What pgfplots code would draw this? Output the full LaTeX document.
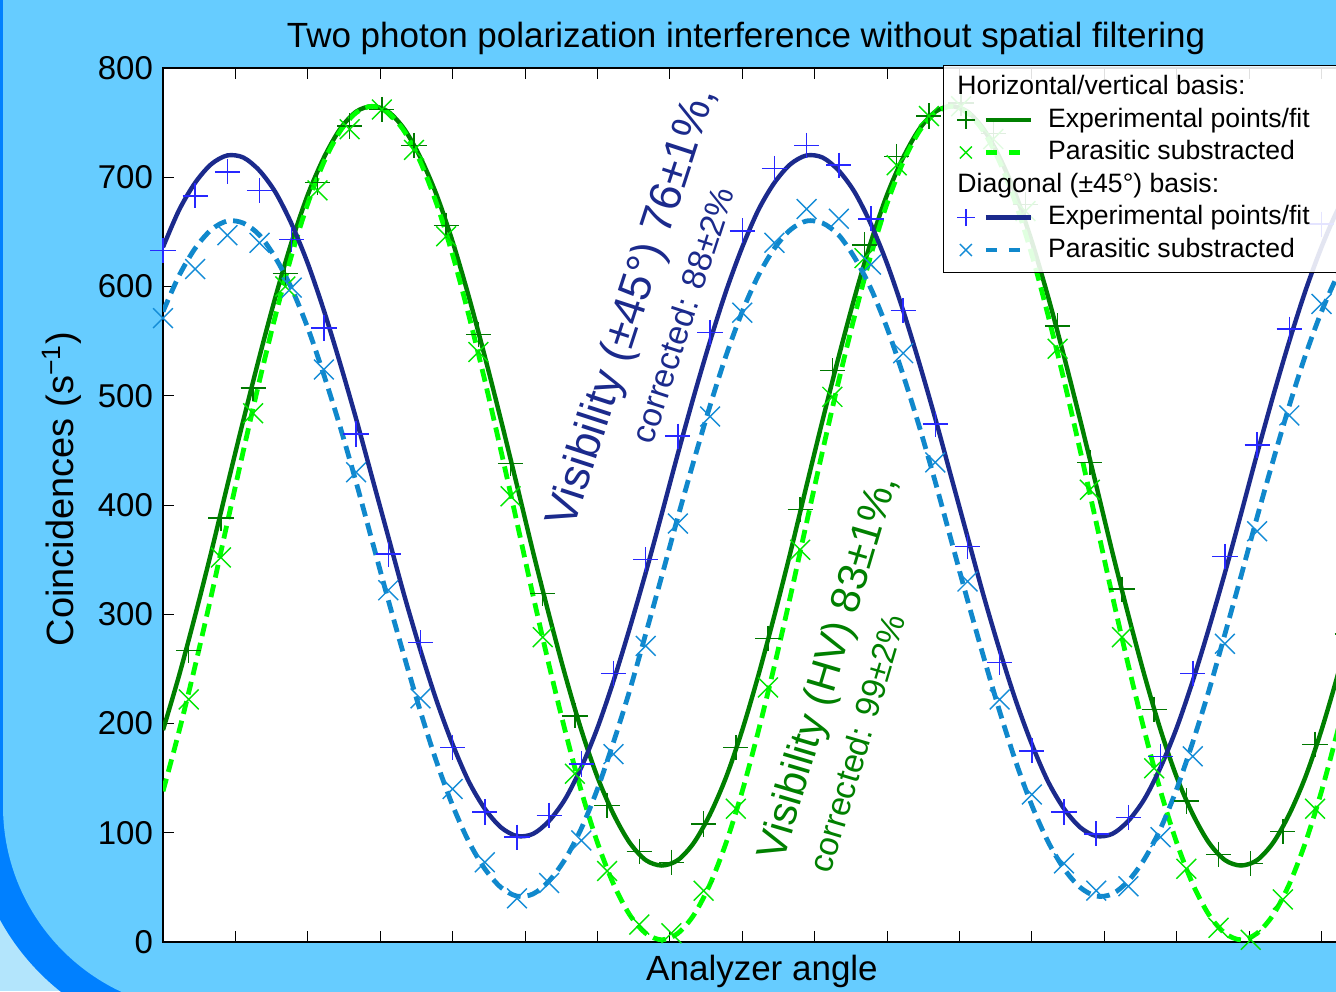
\documentclass[border=0pt]{standalone}
\usepackage{fontspec}
\setmainfont{Liberation Sans}
\usepackage{pgfplots}
\usepackage{pgfplotstable}
\pgfplotsset{compat=1.18}

\definecolor{bgblue}{RGB}{102,204,255}
\definecolor{band}{RGB}{0,128,255}
\definecolor{pale}{RGB}{179,229,252}
\definecolor{bline}{RGB}{27,42,140}
\definecolor{bdash}{RGB}{16,136,204}
\definecolor{bplus}{RGB}{40,40,255}
\definecolor{bcross}{RGB}{20,140,215}
\definecolor{gline}{RGB}{0,128,0}
\definecolor{gdash}{RGB}{0,255,0}
\definecolor{gplus}{RGB}{0,120,0}
\definecolor{gcross}{RGB}{0,230,0}

% fits, every 5 degrees
\pgfplotstableread{
x bs bd gs gd
0 636 577 194 138
5 670 610 244 193
10 695 635 299 253
15 712 652 357 317
20 720 660 418 384
25 718 658 478 450
30 706 647 536 514
35 686 626 591 574
40 657 598 641 629
45 621 562 684 676
50 578 519 718 714
55 530 472 744 742
60 479 421 760 759
65 425 367 765 765
70 371 313 760 759
75 317 261 744 742
80 267 211 718 714
85 221 165 684 676
90 181 125 641 629
95 147 92 591 574
100 122 67 536 514
105 105 50 478 450
110 97 42 418 384
115 99 44 357 317
120 111 56 299 253
125 131 76 244 193
130 160 104 194 138
135 196 140 151 91
140 239 183 117 53
145 287 230 91 25
150 338 282 75 8
155 392 335 70 2
160 447 389 75 8
165 500 441 91 25
170 550 491 117 53
175 596 537 151 91
180 636 577 194 138
185 670 610 244 193
190 695 635 299 253
195 712 652 357 317
200 720 660 418 384
205 718 658 478 450
210 706 647 536 514
215 686 626 591 574
220 657 598 641 629
225 621 562 684 676
230 578 519 718 714
235 530 472 744 742
240 479 421 760 759
245 425 367 765 765
250 371 313 760 759
255 317 261 744 742
260 267 211 718 714
265 221 165 684 676
270 181 125 641 629
275 147 92 591 574
280 122 67 536 514
285 105 50 478 450
290 97 42 418 384
295 99 44 357 317
300 111 56 299 253
305 131 76 244 193
310 160 104 194 138
315 196 140 151 91
320 239 183 117 53
325 287 230 91 25
330 338 282 75 8
335 392 335 70 2
340 447 389 75 8
345 500 441 91 25
350 550 491 117 53
355 596 537 151 91
360 636 577 194 138
365 670 610 244 193
370 695 635 299 253
}\fits

% diagonal basis points
\pgfplotstableread{
x bp bx
0 633 571
10 683 616
20 705 647
30 688 640
40 643 599
50 562 524
60 465 430
70 355 322
80 274 223
90 178 140
100 119 73
110 96 40
120 116 54
130 163 93
140 246 172
150 350 271
160 463 383
170 558 481
180 651 576
190 708 640
200 729 671
210 711 662
220 662 620
230 578 539
240 474 439
250 362 330
260 256 222
270 175 135
280 119 72
290 99 47
300 114 51
310 170 96
320 246 170
330 353 273
340 455 376
350 561 482
360 657 584
}\diagpts

% horizontal/vertical basis points
\pgfplotstableread{
x gp gx
8 267 222
18 388 352
28 507 484
38 612 600
48 695 688
58 747 744
68 762 762
78 729 725
88 656 646
98 556 540
108 438 408
118 319 279
128 207 154
138 125 65
148 83 16
158 73 8
168 108 47
178 178 122
188 278 233
198 396 359
208 523 499
218 638 626
228 719 711
238 756 756
248 768 765
258 740 735
268 675 669
278 564 543
288 439 414
298 323 279
308 213 159
318 129 67
328 80 13
338 72 2
348 101 39
358 181 122
368 282 222
}\hvpts

\newcommand\legfont{\fontsize{13.3}{16}\selectfont}

\begin{document}
\begin{tikzpicture}
\useasboundingbox (0pt,0pt) rectangle (668pt,-495.5pt);
\clip (0pt,0pt) rectangle (668pt,-495.5pt);
\fill[pale] (0pt,0pt) rectangle (668pt,-495.5pt);
\fill[band, rounded corners=118.5pt] (-14.5pt,200pt) rectangle (1000pt,-521.5pt);
\fill[bgblue, rounded corners=102.5pt] (1.5pt,200pt) rectangle (1000pt,-505.5pt);

\begin{axis}[
    at={(81.5pt,-471pt)}, anchor=south west,
    scale only axis, width=611.42pt, height=437pt,
    xmin=0, xmax=380, ymin=0, ymax=800,
    xtick={22.5,45,...,360}, xticklabels={},
    ytick={0,100,...,800},
    tick align=inside, major tick length=5.5pt,
    every tick/.style={black, line width=0.5pt},
    axis line style={line width=0.8pt},
    yticklabel style={font=\fontsize{16.5}{19}\selectfont, xshift=-1.5pt},
    /pgf/number format/assume math mode=true,
    axis background/.style={fill=white},
    legend cell align=left,
    legend style={at={(0.6379,1.0034)}, anchor=north west,
        draw=black, line width=0.5pt, fill=white, fill opacity=0.88,
        text opacity=1, draw opacity=1, font=\legfont,
        inner xsep=6.5pt, inner ysep=4pt, row sep=2.25pt, column sep=7.5pt,
        nodes={inner sep=0pt, text height=10.5pt, text depth=3.5pt}},
]
\addplot[gline, line width=2.2pt, smooth, forget plot] table[x=x,y=gs] {\fits};
\addplot[gdash, line width=2.4pt, dash pattern=on 6.5pt off 3.5pt, smooth, forget plot] table[x=x,y=gd] {\fits};
\addplot[bline, line width=2.2pt, smooth, forget plot] table[x=x,y=bs] {\fits};
\addplot[bdash, line width=2.4pt, dash pattern=on 6.5pt off 3.5pt, smooth, forget plot] table[x=x,y=bd] {\fits};

\addplot[only marks, mark=+, mark size=6.3pt, gplus, mark options={line width=0.75pt}, forget plot] table[x=x,y=gp] {\hvpts};
\addplot[only marks, mark=x, mark size=7pt, gcross, mark options={line width=0.7pt}, forget plot] table[x=x,y=gx] {\hvpts};
\addplot[only marks, mark=+, mark size=6.3pt, bplus, mark options={line width=0.75pt}, forget plot] table[x=x,y=bp] {\diagpts};
\addplot[only marks, mark=x, mark size=7pt, bcross, mark options={line width=0.7pt}, forget plot] table[x=x,y=bx] {\diagpts};

\addlegendimage{legend image code/.code={\node[overlay,anchor=base west,inner sep=0pt,font=\legfont,text=black] at (-4.5pt,-3.5pt) {Horizontal/vertical basis:};}}
\addlegendentry{\mbox{}}
\addlegendimage{legend image code/.code={
    \draw[gplus,line width=0.75pt] (-4.3pt,0pt) -- (4.3pt,0pt) (0pt,-4.3pt) -- (0pt,4.3pt);
    \draw[gline,line width=2.2pt] (10pt,0pt) -- (32.5pt,0pt);}}
\addlegendentry{Experimental points/fit\hspace{16pt}\mbox{}}
\addlegendimage{legend image code/.code={
    \draw[gcross,line width=0.7pt] (-3pt,-3pt) -- (3pt,3pt) (-3pt,3pt) -- (3pt,-3pt);
    \draw[gdash,line width=2.2pt,dash pattern=on 5.5pt off 6pt] (10pt,0pt) -- (32.5pt,0pt);}}
\addlegendentry{Parasitic substracted}
\addlegendimage{legend image code/.code={\node[overlay,anchor=base west,inner sep=0pt,font=\legfont,text=black] at (-4.5pt,-3.5pt) {Diagonal (±45°) basis:};}}
\addlegendentry{\mbox{}}
\addlegendimage{legend image code/.code={
    \draw[bplus,line width=0.75pt] (-4.3pt,0pt) -- (4.3pt,0pt) (0pt,-4.3pt) -- (0pt,4.3pt);
    \draw[bline,line width=2.2pt] (10pt,0pt) -- (32.5pt,0pt);}}
\addlegendentry{Experimental points/fit}
\addlegendimage{legend image code/.code={
    \draw[bcross,line width=0.7pt] (-3pt,-3pt) -- (3pt,3pt) (-3pt,3pt) -- (3pt,-3pt);
    \draw[bdash,line width=2.2pt,dash pattern=on 5.5pt off 6pt] (10pt,0pt) -- (32.5pt,0pt);}}
\addlegendentry{Parasitic substracted}

\node[bline, rotate=72, anchor=base west, inner sep=0pt, font=\fontsize{22.4}{26}\selectfont] at (axis cs:127.5,377) {Visibility (±45°) 76±1\%,};
\node[bline, rotate=72, anchor=base west, inner sep=0pt, font=\fontsize{16.8}{20}\selectfont] at (axis cs:152.2,454.5) {corrected: 88±2\%};
\node[gline, rotate=73.5, anchor=base west, inner sep=0pt, font=\fontsize{20.8}{25}\selectfont] at (axis cs:192.8,72.5) {Visibility (HV) 83±1\%,};
\node[gline, rotate=73.5, anchor=base west, inner sep=0pt, font=\fontsize{16.8}{20}\selectfont] at (axis cs:207.5,61.5) {corrected: 99±2\%};
\end{axis}

\node[anchor=base, inner sep=0pt, font=\fontsize{17.5}{21}\selectfont] at (373pt,-23.5pt) {Two photon polarization interference without spatial filtering};
\node[anchor=base, inner sep=0pt, font=\fontsize{17.5}{21}\selectfont] at (381pt,-490pt) {Analyzer angle};
\node[anchor=base, rotate=90, inner sep=0pt, font=\fontsize{19}{23}\selectfont] at (36.5pt,-244.5pt) {Coincidences (s\textsuperscript{−1})};
\end{tikzpicture}
\end{document}
